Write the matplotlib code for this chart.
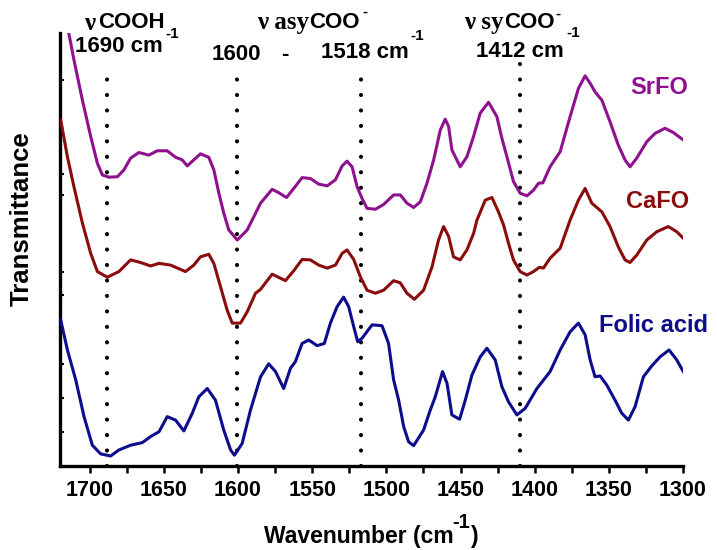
import matplotlib
matplotlib.use("Agg")
import matplotlib.pyplot as plt
from matplotlib.ticker import MultipleLocator

W, H = 717, 550

# FTIR spectra, wavenumber (cm-1) and transmittance (a.u., offset stacked)
sr_w = [1720, 1714.1, 1710.6, 1704.9, 1699.3, 1694.8, 1691.4, 1687.0, 1681.3, 1676.9,
        1672.4, 1666.8, 1660.1, 1654.4, 1647.7, 1642.1, 1637.6, 1634.2, 1629.8, 1625.3,
        1619.7, 1616.3, 1612.9, 1609.6, 1606.2, 1600.5, 1593.8, 1587.1, 1584.8, 1577.0,
        1572.5, 1567.3, 1562.4, 1556.8, 1551.2, 1545.6, 1539.9, 1534.3, 1529.8, 1526.5,
        1523.1, 1519.7, 1516.4, 1513.0, 1507.4, 1501.8, 1495.1, 1490.6, 1486.1, 1481.6,
        1477.1, 1472.6, 1468.1, 1463.6, 1460.3, 1458.0, 1455.8, 1450.2, 1445.7, 1441.2,
        1436.7, 1431.1, 1425.5, 1422.1, 1418.7, 1414.3, 1409.8, 1405.2, 1400.8, 1397.4,
        1394.5, 1389.6, 1382.8, 1376.1, 1370.5, 1366.0, 1362.6, 1359.3, 1354.7, 1349.2,
        1343.6, 1339.1, 1335.7, 1331.2, 1324.4, 1318.9, 1312.1, 1306.5, 1299.8]
sr_t = [109.0, 100.0, 93.8, 84.5, 76.1, 69.9, 67.2, 66.7, 66.8, 68.4,
        71.1, 72.4, 71.8, 72.8, 72.8, 71.3, 70.7, 69.3, 70.7, 72.1,
        71.3, 68.4, 63.0, 58.4, 54.5, 52.2, 54.5, 59.1, 60.7, 63.9,
        63.1, 62.0, 64.1, 66.6, 66.4, 65.1, 64.7, 66.1, 69.3, 70.4,
        69.1, 64.5, 61.8, 59.5, 59.3, 60.4, 62.6, 62.6, 60.7, 59.7,
        61.0, 65.3, 70.7, 77.6, 80.1, 78.4, 73.0, 69.1, 71.4, 76.1,
        81.5, 84.0, 80.7, 75.7, 71.4, 65.7, 63.0, 62.4, 63.7, 65.3,
        65.4, 69.1, 72.6, 80.7, 87.2, 90.1, 88.4, 86.4, 84.5, 79.5,
        74.1, 70.7, 69.1, 71.1, 74.9, 76.8, 78.0, 77.0, 75.3]

ca_w = [1719.5, 1715.0, 1710.6, 1704.9, 1699.3, 1694.8, 1688.1, 1680.3, 1672.4, 1665.7,
        1658.9, 1653.3, 1645.5, 1635.4, 1629.8, 1625.3, 1619.7, 1616.3, 1611.8, 1607.3,
        1603.9, 1598.3, 1593.8, 1588.2, 1584.8, 1577.0, 1568.0, 1562.4, 1556.8, 1551.2,
        1545.6, 1539.9, 1534.3, 1529.8, 1526.5, 1522.0, 1517.5, 1513.0, 1507.4, 1501.8,
        1495.1, 1490.6, 1486.1, 1481.1, 1474.9, 1469.2, 1464.8, 1461.4, 1458.0, 1454.7,
        1450.2, 1445.7, 1441.2, 1438.9, 1433.3, 1428.8, 1424.4, 1421.0, 1417.6, 1414.3,
        1409.8, 1405.2, 1400.8, 1396.8, 1394.1, 1389.6, 1382.8, 1376.1, 1370.5, 1366.0,
        1361.5, 1354.7, 1349.2, 1343.6, 1339.1, 1335.7, 1331.2, 1324.4, 1317.7, 1309.9,
        1304.2, 1299.8]
ca_t = [79.9, 71.4, 64.5, 56.1, 49.1, 44.9, 43.6, 44.9, 47.6, 47.0,
        46.2, 46.8, 46.4, 44.9, 46.4, 48.3, 48.9, 46.8, 41.4, 36.0,
        33.0, 33.0, 35.6, 39.9, 40.8, 44.3, 42.8, 45.1, 47.7, 47.6,
        46.4, 45.7, 46.4, 49.1, 49.9, 47.7, 43.7, 40.6, 39.9, 40.6,
        42.8, 42.3, 39.9, 38.5, 40.6, 46.0, 52.2, 55.3, 53.0, 48.3,
        47.6, 49.9, 53.7, 56.8, 61.4, 62.0, 58.7, 55.7, 51.4, 47.6,
        44.9, 44.1, 44.9, 45.9, 45.7, 48.0, 50.3, 56.8, 61.4, 64.1,
        60.7, 58.7, 55.3, 50.6, 47.6, 47.0, 48.7, 52.2, 54.1, 55.3,
        54.1, 52.6]

fa_w = [1719.5, 1715.0, 1709.4, 1703.8, 1698.2, 1692.6, 1685.9, 1680.3, 1672.4, 1664.5,
        1658.9, 1653.3, 1647.7, 1642.1, 1636.5, 1630.8, 1626.4, 1620.7, 1615.2, 1609.6,
        1605.0, 1602.4, 1597.2, 1591.6, 1584.8, 1579.3, 1574.7, 1569.2, 1564.6, 1561.3,
        1556.8, 1552.3, 1546.7, 1541.8, 1537.7, 1533.2, 1528.8, 1525.4, 1522.0, 1519.3,
        1516.4, 1509.6, 1502.9, 1498.5, 1495.1, 1491.7, 1488.3, 1485.0, 1481.6, 1474.9,
        1470.4, 1467.0, 1462.1, 1459.1, 1455.8, 1450.6, 1446.8, 1442.3, 1436.7, 1432.2,
        1426.6, 1422.1, 1417.6, 1412.0, 1406.4, 1398.5, 1389.6, 1382.8, 1376.1, 1370.5,
        1366.0, 1362.6, 1359.3, 1355.9, 1351.4, 1345.8, 1341.3, 1336.8, 1332.3, 1326.7,
        1321.1, 1315.5, 1309.4, 1304.2, 1299.8]
fa_t = [33.7, 26.8, 19.9, 11.4, 4.8, 2.8, 2.3, 3.7, 4.8, 5.4,
        6.8, 7.9, 11.4, 10.6, 8.1, 12.2, 16.0, 17.9, 15.2, 8.3,
        3.7, 2.5, 5.2, 12.9, 20.6, 23.6, 21.8, 17.9, 22.6, 24.1,
        28.3, 29.1, 27.8, 28.3, 33.0, 36.8, 39.0, 36.8, 32.2, 28.7,
        29.5, 32.6, 32.4, 28.3, 19.9, 15.2, 9.1, 5.6, 4.7, 8.3,
        12.9, 16.0, 21.8, 19.1, 11.8, 10.8, 15.2, 21.0, 25.2, 27.2,
        24.5, 18.3, 14.8, 11.8, 13.3, 17.9, 21.8, 26.8, 31.0, 33.0,
        30.3, 24.5, 20.6, 20.8, 18.7, 15.2, 12.2, 10.6, 13.7, 20.6,
        23.1, 25.2, 26.8, 24.5, 21.8]

# marked bands: position and top of the dotted line
band_w = [1688, 1601, 1517, 1410]
band_top = [92.1, 89.6, 91.5, 93.3]

ytick_pos = [89.1, 67.4, 62.6, 44.8, 39.5, 23.6, 15.7, 7.9]

c_sr = '#8e118e'
c_ca = '#8a0c0c'
c_fa = '#0c0c8c'

sans = 'Liberation Sans'
serif = 'Liberation Serif'
plt.rcParams['font.family'] = sans
plt.rcParams['font.weight'] = 'bold'

fig = plt.figure(figsize=(W / 100, H / 100), dpi=100)
ax = fig.add_axes([60 / W, 1 - 466 / H, (683 - 60) / W, (466 - 33) / H])

for b, t in zip(band_w, band_top):
    ax.plot([b, b], [0, t], color='black', lw=3.0, linestyle=(0, (0.01, 3.7)),
            dash_capstyle='round', clip_on=False, zorder=1)

ax.plot(sr_w, sr_t, color=c_sr, lw=2.2, zorder=3)
ax.plot(ca_w, ca_t, color=c_ca, lw=2.2, zorder=3)
ax.plot(fa_w, fa_t, color=c_fa, lw=2.2, zorder=3)

ax.set_xlim(1720, 1300)
ax.set_ylim(0, 100)
ax.xaxis.set_major_locator(MultipleLocator(50))
ax.xaxis.set_minor_locator(MultipleLocator(25))
ax.set_yticks(ytick_pos)
ax.set_yticklabels([])
ax.tick_params(axis='x', which='both', direction='out', length=5, width=1.8,
               labelsize=15.5, pad=5)
ax.tick_params(axis='y', direction='in', length=3, width=1.5)
for lab in ax.get_xticklabels():
    lab.set_fontweight('bold')

for s in ['top', 'right']:
    ax.spines[s].set_visible(False)
for s in ['left', 'bottom']:
    ax.spines[s].set_linewidth(2.4)


def ptxt(px, py, s, size=16, fam=sans, ha='left', color='black', rot=0):
    fig.text(px / W, 1 - py / H, s, fontsize=size, family=fam, fontweight='bold',
             ha=ha, va='center', color=color, rotation=rot)


# axis titles
ptxt(22, 219, 'Transmittance', size=18.5, ha='center', rot=90)
ptxt(264, 537, 'Wavenumber (cm', size=16.5)
ptxt(452, 523, '-1', size=14.5)
ptxt(471, 537, ')', size=16.5)

# band annotations
ptxt(95, 23, 'ν', fam=serif, size=18, ha='right')
ptxt(98, 23, 'COOH')
ptxt(165, 34, '-1', size=11)
ptxt(75, 47, '1690 cm')

ptxt(309, 23, 'ν asy', fam=serif, size=18, ha='right')
ptxt(309, 23, 'COO')
ptxt(362, 12, '-', size=11)
ptxt(212, 54, '1600')
ptxt(285, 54, '-', ha='center')
ptxt(321, 53, '1518 cm')
ptxt(410, 36, '-1', size=11)

ptxt(504, 23, 'ν sy', fam=serif, size=18, ha='right')
ptxt(504, 23, 'COO')
ptxt(555, 14, '-', size=11)
ptxt(566, 33, '-1', size=11)
ptxt(476, 52, '1412 cm')

# sample labels
ptxt(630, 88, 'SrFO', size=17, color=c_sr)
ptxt(626, 202, 'CaFO', size=17, color=c_ca)
ptxt(599, 325, 'Folic acid', size=17, color=c_fa)

fig.savefig('out.png', dpi=100)
